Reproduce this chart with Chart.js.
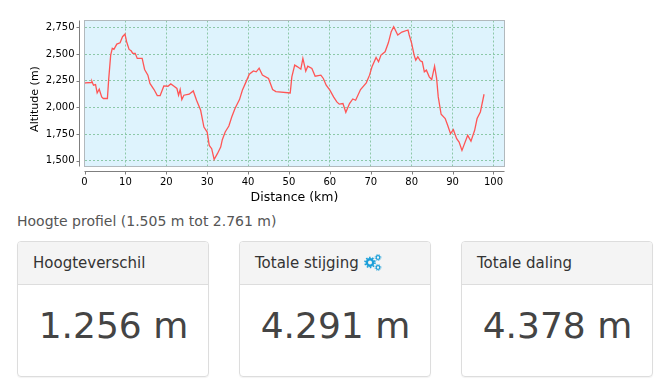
<!DOCTYPE html>
<html lang="nl">
<head>
<meta charset="UTF-8">
<title>Hoogte profiel</title>
<script src="https://cdn.jsdelivr.net/npm/chart.js"></script>
<style>
body { margin: 0; width: 658px; height: 388px; overflow: hidden; background: #fff; font-family: "DejaVu Sans", sans-serif; color: #444; position: relative; }
#wrap { position: absolute; left: 0; top: 0; width: 658px; height: 205px; }
#sub { position: absolute; left: 17px; top: 212px; font-size: 14px; line-height: 18px; color: #555; }
.card { position: absolute; top: 241px; width: 190px; height: 134px; border: 1px solid #ddd; border-radius: 4px; box-sizing: content-box; box-shadow: 0 1px 1px rgba(0,0,0,.05); }
.head { height: 42px; line-height: 42px; background: #f4f4f4; border-bottom: 1px solid #ddd; padding-left: 15px; font-size: 15px; color: #333; border-radius: 3px 3px 0 0; }
.val { text-align: center; font-size: 36px; line-height: 40px; margin-top: 21px; padding-left: 1px; color: #444; }
.head svg { vertical-align: -3px; }
</style>
</head>
<body>
<div id="wrap"><canvas id="myChart" width="658" height="205"></canvas></div>
<div id="sub">Hoogte profiel (1.505 m tot 2.761 m)</div>
<div class="card" style="left:17px"><div class="head">Hoogteverschil</div><div class="val">1.256 m</div></div>
<div class="card" style="left:239px"><div class="head">Totale stijging <svg width="18" height="17" viewBox="0 0 18 17" fill="none" stroke="#1a9fd9"><circle cx="6" cy="8.5" r="3.2" stroke-width="2.4"/><circle cx="6" cy="8.5" r="5" stroke-width="1.6" stroke-dasharray="1.6 1.54"/><circle cx="14" cy="3.5" r="1.8" stroke-width="1.2"/><circle cx="14" cy="3.5" r="2.9" stroke-width="0.9" stroke-dasharray="1 0.82"/><circle cx="14" cy="13.5" r="1.8" stroke-width="1.2"/><circle cx="14" cy="13.5" r="2.9" stroke-width="0.9" stroke-dasharray="1 0.82"/></svg></div><div class="val">4.291 m</div></div>
<div class="card" style="left:461px"><div class="head">Totale daling</div><div class="val">4.378 m</div></div>
<script>
const xTicks = [0, 10, 20, 30, 40, 50, 60, 70, 80, 90, 100];
const yTicks = [1500, 1750, 2000, 2250, 2500, 2750];
const distance = [0, 0.2, 1.7, 1.8, 2.2, 2.7, 3.1, 3.6, 4.2, 4.6, 5.6, 5.9, 6.4, 6.8, 7.2, 7.9, 8.7, 9.3, 9.9, 10.3, 10.9, 11.4, 11.8, 12.4, 12.9, 14.1, 14.7, 15.5, 16, 17, 17.8, 18.5, 19, 19.4, 20.4, 21.1, 21.9, 22.6, 23, 23.4, 23.8, 24.3, 25.6, 26.6, 27.4, 28.4, 29.2, 30, 30.5, 31.1, 31.7, 32.5, 33.3, 33.7, 34.4, 35.3, 36, 36.8, 37.9, 38.6, 39.5, 40.3, 41.3, 42, 42.7, 43.5, 45, 46, 46.8, 50.3, 50.7, 51.4, 52.1, 52.9, 53.4, 54.1, 54.6, 55.6, 56.4, 57.8, 58.4, 59.1, 60, 60.9, 61.7, 62.3, 63.2, 63.9, 64.8, 65.6, 66.3, 67.5, 68.9, 69.7, 70.3, 71.3, 71.9, 72.5, 73.5, 74.3, 75, 75.6, 76.6, 77.6, 79.1, 79.4, 80, 80.6, 81, 81.5, 82.1, 82.6, 83.1, 83.6, 84.3, 84.9, 85.6, 86.1, 86.5, 87.2, 88.2, 88.8, 89.5, 90.2, 91, 91.6, 92.3, 93.7, 94.5, 95.4, 96, 96.8, 97.7];
const altitude = [2223, 2230, 2233, 2245, 2208, 2214, 2135, 2170, 2098, 2083, 2083, 2255, 2490, 2553, 2543, 2593, 2605, 2662, 2687, 2615, 2543, 2530, 2506, 2506, 2459, 2459, 2355, 2302, 2224, 2167, 2111, 2111, 2161, 2201, 2198, 2220, 2198, 2177, 2114, 2167, 2073, 2114, 2123, 2154, 2067, 1973, 1816, 1769, 1644, 1613, 1512, 1566, 1628, 1697, 1769, 1825, 1910, 1989, 2073, 2161, 2239, 2311, 2342, 2333, 2367, 2302, 2271, 2167, 2148, 2135, 2286, 2396, 2380, 2358, 2459, 2339, 2386, 2365, 2292, 2302, 2271, 2208, 2161, 2098, 2051, 2030, 2036, 1954, 2036, 2079, 2067, 2167, 2230, 2302, 2380, 2468, 2427, 2490, 2521, 2605, 2709, 2756, 2678, 2706, 2725, 2678, 2600, 2490, 2443, 2474, 2436, 2427, 2333, 2349, 2286, 2261, 2386, 2271, 2098, 1935, 1895, 1832, 1754, 1791, 1707, 1675, 1597, 1738, 1684, 1785, 1895, 1957, 2123];

const axisColor = '#7f7f7f';
const jfreeFrame = {
    id: 'jfreeFrame',
    beforeDraw(chart) {
        const a = chart.chartArea, c = chart.ctx;
        c.save();
        c.fillStyle = '#def3fd';
        c.fillRect(a.left, a.top, a.right - a.left, a.bottom - a.top);
        c.restore();
    },
    afterDraw(chart) {
        const a = chart.chartArea, c = chart.ctx;
        c.save();
        c.strokeStyle = '#b2b9bd';
        c.lineWidth = 1;
        c.strokeRect(a.left, a.top, a.right - a.left, a.bottom - a.top);
        // axes sit a few px away from the plot
        c.strokeStyle = axisColor;
        c.beginPath();
        c.moveTo(a.left, a.bottom + 5); c.lineTo(a.right, a.bottom + 5);
        xTicks.forEach(v => {
            const p = Math.round(chart.scales.x.getPixelForValue(v)) + 0.5;
            c.moveTo(p, a.bottom + 5); c.lineTo(p, a.bottom + 8);
        });
        c.moveTo(a.left - 5, a.top); c.lineTo(a.left - 5, a.bottom);
        yTicks.forEach(v => {
            const p = Math.round(chart.scales.y.getPixelForValue(v)) + 0.5;
            c.moveTo(a.left - 5, p); c.lineTo(a.left - 8, p);
        });
        c.stroke();
        // y title is not centred on the plot in the original
        c.translate(35, 99);
        c.rotate(-Math.PI / 2);
        c.fillStyle = '#000';
        c.font = '11px "DejaVu Sans"';
        c.textAlign = 'center';
        c.textBaseline = 'middle';
        c.fillText('Altitude (m)', 0, 0);
        c.restore();
    }
};

const fmt = v => v.toLocaleString('en-US');
const gridGreen = '#8cc8a8';

new Chart(document.getElementById('myChart').getContext('2d'), {
    type: 'line',
    data: {
        datasets: [{
            label: 'Altitude',
            data: distance.map((d, i) => ({ x: d, y: altitude[i] })),
            borderColor: '#ff5555',
            borderWidth: 1.3,
            pointRadius: 0,
            tension: 0
        }]
    },
    options: {
        responsive: false,
        animation: false,
        layout: { padding: { left: 0, top: 20.5, right: 153.5, bottom: 0 } },
        plugins: { legend: { display: false }, tooltip: { enabled: false } },
        scales: {
            x: {
                type: 'linear',
                min: 0,
                max: 102.7,
                afterFit(s) { s.height = 38.5; },
                afterBuildTicks(s) { s.ticks = xTicks.map(v => ({ value: v })); },
                border: { display: false, dash: [2, 2] },
                grid: {
                    drawTicks: false,
                    lineWidth: 1,
                    color: c => c.tick && c.tick.value === 0 ? '#7d84c8' : gridGreen
                },
                ticks: { padding: 10, maxRotation: 0, autoSkip: false, color: '#000', font: { family: 'DejaVu Sans', size: 10 }, callback: v => fmt(v) },
                title: { display: true, text: 'Distance (km)', color: '#000', font: { family: 'DejaVu Sans', size: 12.5 }, padding: { top: 0, bottom: 0 } }
            },
            y: {
                min: 1446,
                max: 2814,
                afterFit(s) { s.width = 84.5; },
                afterBuildTicks(s) { s.ticks = yTicks.map(v => ({ value: v })); },
                border: { display: false, dash: [2, 2] },
                grid: { drawTicks: false, lineWidth: 1, color: gridGreen },
                ticks: { padding: 10, autoSkip: false, color: '#000', font: { family: 'DejaVu Sans', size: 10 }, callback: v => fmt(v) }
            }
        }
    },
    plugins: [jfreeFrame]
});
</script>
</body>
</html>
